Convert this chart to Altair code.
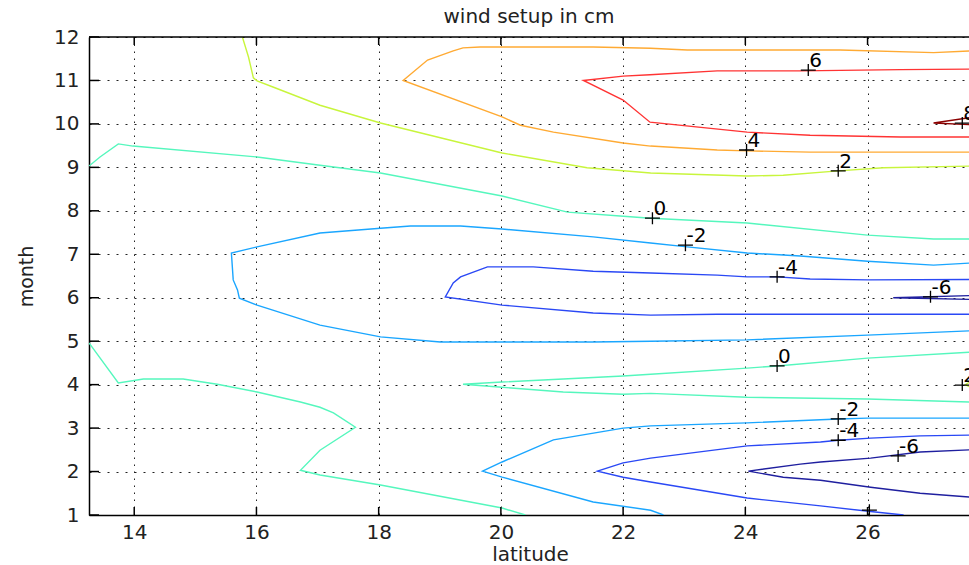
import altair as alt
import pandas as pd

# ---------------- data ----------------
chart_title = "wind setup in cm"
levels = ["-6", "-4", "-2", "0", "2", "4", "6", "8"]
level_colors = ["#1f1f9f", "#2a48f5", "#1aa6ff", "#55f7bd",
                "#c8f53c", "#ffaa33", "#ff3333", "#8b0000"]

c8_lat = [27.70, 27.08, 27.70]
c8_month = [10.15, 10.02, 9.98]

c6_lat = [27.70, 26.54, 24.90, 23.54, 22.44, 22.00, 21.35, 22.00, 22.44, 24.03, 25.06, 26.54, 27.70]
c6_month = [11.26, 11.25, 11.22, 11.22, 11.13, 11.10, 11.00, 10.55, 10.04, 9.81, 9.74, 9.70, 9.70]

c4_lat = [27.70, 27.08, 25.55, 23.05, 22.45, 21.51, 19.66, 19.38, 19.22, 18.80, 18.40,
          20.02, 20.32, 20.86, 22.00, 22.45, 23.54, 24.03, 25.06, 27.70]
c4_month = [11.68, 11.64, 11.70, 11.70, 11.74, 11.77, 11.77, 11.75, 11.68, 11.47, 11.00,
            10.16, 9.97, 9.81, 9.56, 9.49, 9.40, 9.38, 9.35, 9.35]

c2a_lat = [15.77, 15.87, 15.95, 16.01, 16.27, 17.04, 18.03, 20.02, 21.41, 22.45, 24.03, 24.62, 25.52, 26.26, 27.70]
c2a_month = [12.00, 11.54, 11.06, 10.99, 10.85, 10.43, 10.02, 9.33, 8.99, 8.87, 8.80, 8.82, 8.92, 8.99, 9.03]

c2b_lat = [27.70, 27.60, 27.70]
c2b_month = [4.08, 4.00, 3.93]

c0a_lat = [13.26, 13.44, 13.74, 13.98, 16.01, 17.04, 18.03, 20.02, 21.09, 21.95, 22.45, 24.03, 26.00, 27.08, 27.70]
c0a_month = [9.03, 9.24, 9.54, 9.49, 9.24, 9.05, 8.87, 8.34, 7.97, 7.88, 7.83, 7.72, 7.44, 7.35, 7.35]

c0b_lat = [27.70, 26.00, 24.52, 24.03, 22.45, 22.00, 21.02, 20.02, 19.38,
           20.02, 21.02, 22.00, 22.45, 24.03, 26.00, 27.70]
c0b_month = [4.75, 4.61, 4.43, 4.38, 4.24, 4.20, 4.13, 4.06, 4.01,
             3.94, 3.83, 3.78, 3.80, 3.71, 3.67, 3.60]

c0c_lat = [13.26, 13.74, 14.15, 14.80, 15.36, 16.01, 16.72, 17.04, 17.26, 17.62,
           17.04, 16.72, 17.04, 18.03, 20.02, 20.40]
c0c_month = [4.96, 4.04, 4.13, 4.13, 4.01, 3.83, 3.60, 3.48, 3.35, 3.02,
             2.49, 2.03, 1.92, 1.69, 1.16, 1.00]

cm2a_lat = [27.70, 27.08, 26.00, 24.90, 24.03, 23.05, 22.45, 21.51, 20.02, 19.34, 18.52, 18.03, 17.04,
            16.01, 15.59, 15.62, 15.69, 15.72, 16.01, 17.04, 18.03, 19.01, 20.02, 21.51, 22.45,
            24.03, 26.00, 27.70]
cm2a_month = [6.80, 6.75, 6.84, 6.96, 7.03, 7.17, 7.26, 7.40, 7.58, 7.65, 7.65, 7.60, 7.49,
              7.17, 7.03, 6.41, 6.18, 5.99, 5.83, 5.37, 5.10, 4.98, 4.98, 4.98, 5.00,
              5.03, 5.14, 5.24]

cm2b_lat = [27.70, 26.00, 25.52, 24.03, 22.45, 22.00, 20.86, 20.02, 19.70, 20.02, 21.51, 22.45, 22.66]
cm2b_month = [3.23, 3.23, 3.21, 3.12, 3.05, 3.00, 2.73, 2.22, 2.01, 1.87, 1.30, 1.11, 1.00]

cm4a_lat = [27.70, 26.00, 25.06, 24.52, 24.03, 23.54, 22.45, 21.51, 20.53, 20.02, 19.78, 19.34, 19.22, 19.09,
            20.02, 21.51, 22.45, 23.54, 26.00, 27.70]
cm4a_month = [6.42, 6.41, 6.43, 6.48, 6.48, 6.52, 6.57, 6.61, 6.71, 6.71, 6.71, 6.48, 6.34, 6.02,
              5.83, 5.65, 5.60, 5.62, 5.62, 5.62]

cm4b_lat = [27.70, 26.86, 26.05, 25.52, 25.23, 24.03, 22.45, 22.00, 21.58, 22.00, 22.45, 24.03, 25.23, 26.05, 26.59]
cm4b_month = [2.84, 2.82, 2.77, 2.72, 2.68, 2.59, 2.31, 2.20, 2.01, 1.87, 1.76, 1.39, 1.21, 1.08, 1.00]

cm6a_lat = [27.70, 26.42, 27.70]
cm6a_month = [6.05, 6.00, 5.96]

cm6b_lat = [27.70, 26.86, 26.05, 25.23, 24.90, 24.05, 24.62, 25.23, 26.05, 26.86, 27.70]
cm6b_month = [2.50, 2.45, 2.31, 2.22, 2.17, 2.01, 1.87, 1.80, 1.64, 1.50, 1.41]

lab_lat = [25.03, 27.55, 24.02, 25.52, 22.48, 23.02, 24.52, 27.03, 24.52, 27.55, 25.52, 25.52, 26.50, 26.03]
lab_month = [11.24, 10.02, 9.40, 8.92, 7.83, 7.21, 6.48, 6.02, 4.43, 3.99, 3.21, 2.72, 2.36, 1.11]
lab_text = ["6", "8", "4", "2", "0", "-2", "-4", "-6", "0", "2", "-2", "-4", "-6", ""]

x_ticks = [14, 16, 18, 20, 22, 24, 26]
y_ticks = [1, 2, 3, 4, 5, 6, 7, 8, 9, 10, 11, 12]

# ---------------- build tables ----------------
segments = [
    ("8", c8_lat, c8_month), ("6", c6_lat, c6_month), ("4", c4_lat, c4_month),
    ("2", c2a_lat, c2a_month), ("2", c2b_lat, c2b_month),
    ("0", c0a_lat, c0a_month), ("0", c0b_lat, c0b_month), ("0", c0c_lat, c0c_month),
    ("-2", cm2a_lat, cm2a_month), ("-2", cm2b_lat, cm2b_month),
    ("-4", cm4a_lat, cm4a_month), ("-4", cm4b_lat, cm4b_month),
    ("-6", cm6a_lat, cm6a_month), ("-6", cm6b_lat, cm6b_month),
]
rows = []
for i, (lev, la, mo) in enumerate(segments):
    for j, (a, b) in enumerate(zip(la, mo)):
        rows.append({"seg": i, "ord": j, "level": lev, "lat": a, "month": b})
df = pd.DataFrame(rows)
lab_df = pd.DataFrame({"lat": lab_lat, "month": lab_month, "text": lab_text})
xt_df = pd.DataFrame({"lat": x_ticks})
yt_df = pd.DataFrame({"month": y_ticks})
one_df = pd.DataFrame({"title": [chart_title]})

W, H = 880, 478
FONT = "DejaVu Sans"
xscale = alt.Scale(domain=[13.26, 27.66], nice=False, zero=False)
yscale = alt.Scale(domain=[1, 12], nice=False, zero=False)

x_axis = alt.Axis(values=x_ticks, format="d", title="latitude", grid=True,
                  gridDash=[1.5, 5.5], gridColor="#222222", gridWidth=1, gridOpacity=1,
                  ticks=False, domain=True, domainColor="black", domainWidth=1.5,
                  labelFont=FONT, labelFontSize=20, labelColor="#222222", labelPadding=7,
                  labelFlush=False, labelOverlap=False,
                  titleFont=FONT, titleFontSize=20, titleFontWeight="normal", titleColor="#222222",
                  titleX=441, titleY=45, titleBaseline="alphabetic", titleAlign="center")
y_axis = alt.Axis(values=y_ticks, format="d", title="month", grid=True,
                  gridDash=[2, 7], gridColor="#222222", gridWidth=1, gridOpacity=1,
                  ticks=False, domain=True, domainColor="black", domainWidth=1.5,
                  labelFont=FONT, labelFontSize=20, labelColor="#222222", labelPadding=10,
                  labelFlush=False, labelOverlap=False,
                  titleFont=FONT, titleFontSize=19, titleFontWeight="normal", titleColor="#222222",
                  titleX=-57, titleY=239, titleAngle=270, titleBaseline="alphabetic", titleAlign="center")

X = alt.X("lat:Q", scale=xscale, axis=x_axis)
Y = alt.Y("month:Q", scale=yscale, axis=y_axis)

lines = alt.Chart(df).mark_line(strokeWidth=1.4, clip=True).encode(
    x=X, y=Y,
    color=alt.Color("level:N", scale=alt.Scale(domain=levels, range=level_colors), legend=None),
    detail="seg:N",
    order="ord:Q",
)

bottom_ticks = alt.Chart(xt_df).mark_rule(color="black", strokeWidth=1.5).encode(
    x=X, y=alt.value(H), y2=alt.value(H - 8))
top_ticks = alt.Chart(xt_df).mark_rule(color="black", strokeWidth=1.5).encode(
    x=X, y=alt.value(0), y2=alt.value(8))
left_ticks = alt.Chart(yt_df).mark_rule(color="black", strokeWidth=1.5).encode(
    y=Y, x=alt.value(0), x2=alt.value(10))
top_border = alt.Chart(one_df).mark_rule(color="black", strokeWidth=1.5).encode(
    x=alt.value(0), x2=alt.value(W), y=alt.value(0))
title_text = alt.Chart(one_df).mark_text(align="center", baseline="alphabetic", font=FONT,
                                         fontSize=20, color="#222222").encode(
    x=alt.value(W / 2), y=alt.value(-14), text="title:N")

plus = alt.Chart(lab_df).mark_point(shape="M-1,0L1,0M0,-0.8L0,0.8", size=225, filled=False,
                                    color="black", strokeWidth=1.3, opacity=1).encode(x=X, y=Y)
labels = alt.Chart(lab_df).mark_text(align="left", baseline="alphabetic", dx=1, dy=-3,
                                     font=FONT, fontSize=20, color="black").encode(
    x=X, y=Y, text="text:N")

chart = alt.layer(lines, bottom_ticks, top_ticks, left_ticks, top_border, title_text,
                  plus, labels).properties(
    width=W, height=H,
    padding={"left": 89, "top": 37, "right": 0, "bottom": 50},
    autosize=alt.AutoSizeParams(type="none"),
    background="white",
).configure_view(stroke=None)

chart.save("out.html", embed_options={"renderer": "svg", "actions": False})
